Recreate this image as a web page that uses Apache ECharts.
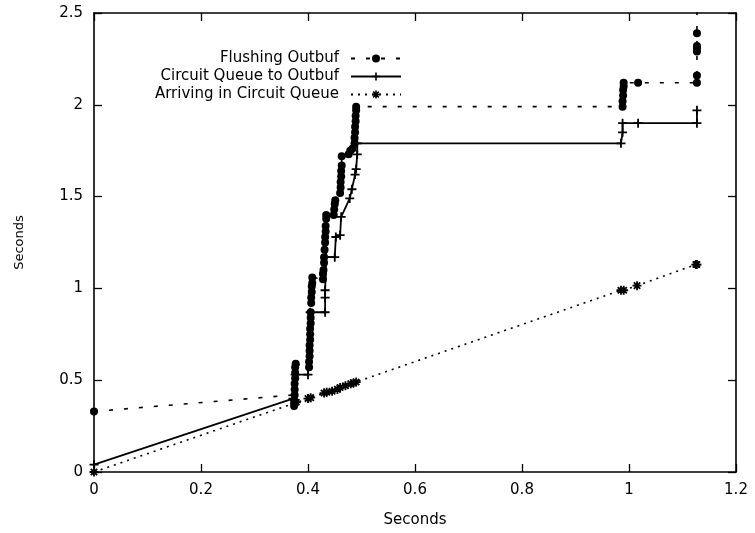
<!DOCTYPE html>
<html>
<head>
<meta charset="utf-8">
<script src="https://cdn.jsdelivr.net/npm/echarts@6/dist/echarts.min.js"></script>
<style>
  html, body { margin: 0; padding: 0; background: #fff; }
  #chart { width: 755px; height: 533px; }
</style>
</head>
<body>
<div id="chart"></div>
<script>
// series data: [x seconds, y seconds]
var flushPoints = [
    [0, 0.33],
    [0.375, 0.42], [0.374, 0.39], [0.374, 0.36], [0.375, 0.45], [0.375, 0.48], [0.376, 0.51], [0.376, 0.54], [0.376, 0.57], [0.377, 0.59],
    [0.402, 0.57], [0.402, 0.60], [0.403, 0.63], [0.403, 0.66], [0.403, 0.69], [0.404, 0.72], [0.404, 0.75], [0.404, 0.78], [0.405, 0.81],
    [0.405, 0.84], [0.405, 0.87], [0.406, 0.92], [0.406, 0.95], [0.407, 0.98], [0.407, 1.01], [0.408, 1.03], [0.408, 1.06],
    [0.428, 1.05], [0.428, 1.08], [0.429, 1.10], [0.430, 1.14], [0.430, 1.17], [0.431, 1.21], [0.432, 1.25], [0.432, 1.28], [0.433, 1.31],
    [0.433, 1.34], [0.434, 1.38], [0.434, 1.40],
    [0.448, 1.40], [0.449, 1.43], [0.450, 1.46], [0.451, 1.48],
    [0.460, 1.52], [0.461, 1.55], [0.461, 1.58], [0.462, 1.61], [0.462, 1.64], [0.463, 1.67], [0.463, 1.72],
    [0.476, 1.73], [0.479, 1.75], [0.483, 1.76],
    [0.487, 1.79], [0.487, 1.82], [0.488, 1.85], [0.488, 1.88], [0.489, 1.91], [0.489, 1.94], [0.490, 1.97], [0.490, 1.99],
    [0.988, 1.99], [0.988, 2.02], [0.989, 2.05], [0.989, 2.08], [0.990, 2.10], [0.990, 2.12],
    [1.017, 2.12],
    [1.127, 2.12], [1.127, 2.16], [1.127, 2.29], [1.127, 2.31], [1.127, 2.32], [1.127, 2.39], [1.127, 2.62]
];

var outbufPoints = [
    [0, 0.04], [0.372, 0.40], [0.376, 0.53], [0.400, 0.53], [0.404, 0.87], [0.432, 0.87], [0.432, 0.95], [0.432, 0.99],
    [0.434, 1.17], [0.450, 1.17], [0.452, 1.28], [0.460, 1.29], [0.462, 1.39], [0.478, 1.49], [0.482, 1.54], [0.488, 1.62],
    [0.490, 1.65], [0.492, 1.73], [0.492, 1.79], [0.985, 1.79], [0.988, 1.85], [0.988, 1.90], [1.017, 1.90], [1.127, 1.90],
    [1.127, 1.97]
];

var arrivePoints = [
    [0, 0], [0.375, 0.375], [0.378, 0.38], [0.400, 0.40], [0.405, 0.405], [0.430, 0.43], [0.435, 0.435], [0.445, 0.44],
    [0.455, 0.45], [0.460, 0.46], [0.470, 0.47], [0.480, 0.48], [0.485, 0.485], [0.490, 0.49], [0.985, 0.99], [0.990, 0.99],
    [1.015, 1.015], [1.125, 1.13], [1.127, 1.13]
];

var seriesNames = ['Flushing Outbuf', 'Circuit Queue to Outbuf', 'Arriving in Circuit Queue'];
var xTicks = { min: 0, max: 1.2, interval: 0.2 };
var yTicks = { min: 0, max: 2.5, interval: 0.5 };

var plusPath = 'path://M-1,-5L1,-5L1,-1L5,-1L5,1L1,1L1,5L-1,5L-1,1L-5,1L-5,-1L-1,-1Z';
var starPath = 'path://M-1,-5L1,-5L1,-1L5,-1L5,1L1,1L1,5L-1,5L-1,1L-5,1L-5,-1L-1,-1Z' +
    'M2.83,-4.24L4.24,-2.83L1.41,0L4.24,2.83L2.83,4.24L0,1.41L-2.83,4.24L-4.24,2.83L-1.41,0L-4.24,-2.83L-2.83,-4.24L0,-1.41Z';

var font = 'DejaVu Sans';

function axisCommon(pos, showLabel) {
    return {
        position: pos,
        axisLine: { show: true, onZero: false, lineStyle: { color: '#000', width: 1.6 } },
        axisTick: { show: true, inside: true, length: 8, lineStyle: { color: '#000', width: 1.3 } },
        axisLabel: { show: showLabel, color: '#000', fontFamily: font, fontSize: 15 },
        splitLine: { show: false }
    };
}

var xBottom = Object.assign(axisCommon('bottom', true), {
    type: 'value', min: xTicks.min, max: xTicks.max, interval: xTicks.interval,
    name: 'Seconds', nameLocation: 'middle', nameGap: 41,
    nameTextStyle: { color: '#000', fontFamily: font, fontSize: 15 }
});
xBottom.axisLabel.margin = 11;
var xTop = Object.assign(axisCommon('top', false), {
    type: 'value', min: xTicks.min, max: xTicks.max, interval: xTicks.interval
});
var yLeft = Object.assign(axisCommon('left', true), {
    type: 'value', min: yTicks.min, max: yTicks.max, interval: yTicks.interval,
    name: 'Seconds', nameLocation: 'middle', nameGap: 68,
    nameTextStyle: { color: '#000', fontFamily: font, fontSize: 13 }
});
yLeft.axisLabel.margin = 11;
var yRight = Object.assign(axisCommon('right', false), {
    type: 'value', min: yTicks.min, max: yTicks.max, interval: yTicks.interval
});

var myChart = echarts.init(document.getElementById('chart'), null, { renderer: 'canvas' });

var option = {
    animation: false,
    backgroundColor: '#fff',
    grid: { left: 94, right: 19, top: 13, bottom: 61 },
    legend: {
        orient: 'vertical',
        align: 'right',
        right: 353,
        top: 51,
        padding: 0,
        itemWidth: 50,
        itemHeight: 10,
        itemGap: 3,
        textStyle: { color: '#000', fontFamily: font, fontSize: 15, padding: [0, 7, 0, 0] },
        data: seriesNames
    },
    xAxis: [xBottom, xTop],
    yAxis: [yLeft, yRight],
    series: [
        {
            name: seriesNames[0],
            type: 'line',
            data: flushPoints,
            symbol: 'circle',
            symbolSize: 8,
            color: '#000',
            lineStyle: { color: '#000', width: 1.6, type: [4, 11] },
            itemStyle: { color: '#000' }
        },
        {
            name: seriesNames[1],
            type: 'line',
            data: outbufPoints,
            symbol: plusPath,
            symbolSize: 9,
            color: '#000',
            lineStyle: { color: '#000', width: 1.8, type: 'solid' },
            itemStyle: { color: '#000' }
        },
        {
            name: seriesNames[2],
            type: 'line',
            data: arrivePoints,
            symbol: starPath,
            symbolSize: 9,
            color: '#000',
            lineStyle: { color: '#000', width: 1.6, type: [2, 5] },
            itemStyle: { color: '#000' }
        }
    ]
};

myChart.setOption(option);
</script>
</body>
</html>
